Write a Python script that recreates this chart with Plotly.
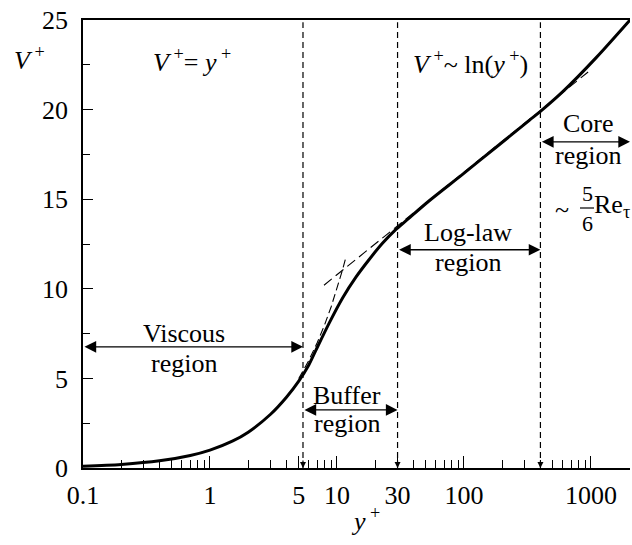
import math
import plotly.graph_objects as go

# ---- data ----
yplus = [0.1, 0.2, 0.4, 0.7, 1.0, 1.5, 2.0, 3.0, 4.0, 5.0, 6.0, 6.8, 8.7, 11.1, 14.1,
         18.0, 22.9, 29.0, 35.0, 53.0, 98.0, 179.0, 327.0, 400.0, 600.0, 1100.0, 2030.0]
vplus = [0.1, 0.2, 0.4, 0.7, 1.0, 1.5, 2.0, 3.0, 3.95, 4.85, 5.75, 6.55, 8.1, 9.5, 10.65,
         11.65, 12.55, 13.3, 13.8, 14.9, 16.4, 17.9, 19.4, 19.9, 21.0, 22.9, 25.0]

visc_yplus = [5.0, 6.0, 7.0, 8.0, 9.0, 10.0, 11.0, 11.8]
visc_vplus = [5.0, 6.0, 7.0, 8.0, 9.0, 10.0, 11.0, 11.8]

loglaw_yplus = [7.9, 950.0]
loglaw_vplus = [10.2, 22.1]

region_bounds = [5.4, 30.0, 400.0]
x_min, x_max = 0.1, 2030.0
y_min, y_max = 0.0, 25.0

arrow_levels = {"viscous": 6.76, "buffer": 3.24, "loglaw": 12.18, "core": 18.2}

x_tickvals = [0.1, 1, 5, 10, 30, 100, 1000]
x_ticktext = ["0.1", "1", "5", "10", "30", "100", "1000"]
x_minor = [m * 10 ** e for e in range(-1, 4) for m in range(2, 10) if m * 10 ** e <= 2000]

FONT = "Liberation Serif"
FS = 26

fig = go.Figure()

# dashed region boundaries
for xb in region_bounds:
    fig.add_trace(go.Scatter(x=[xb, xb], y=[y_min, y_max * 0.995], mode="lines",
                             line=dict(color="black", width=1.2, dash="6px,4px"),
                             showlegend=False, hoverinfo="skip"))

# asymptote dashed lines
fig.add_trace(go.Scatter(x=visc_yplus, y=visc_vplus, mode="lines",
                         line=dict(color="black", width=1.1, dash="8px,4px"),
                         showlegend=False, hoverinfo="skip"))
fig.add_trace(go.Scatter(x=loglaw_yplus, y=loglaw_vplus, mode="lines",
                         line=dict(color="black", width=1.1, dash="10px,5px"),
                         showlegend=False, hoverinfo="skip"))

# main profile
fig.add_trace(go.Scatter(x=yplus, y=vplus, mode="lines",
                         line=dict(color="black", width=3, shape="spline", smoothing=0.8),
                         showlegend=False, hoverinfo="skip"))

ann = []
L = math.log10

# small arrowheads at the bottom of the dashed boundaries
for xb in region_bounds:
    ann.append(dict(x=L(xb), y=0, xref="x", yref="y", ax=0, ay=-9, text="",
                    showarrow=True, arrowhead=2, arrowsize=1, arrowwidth=1.2, arrowcolor="black"))

def darrow(x0, x1, y):
    ann.append(dict(x=L(x1), y=y, ax=L(x0), ay=y, xref="x", yref="y", axref="x", ayref="y",
                    text="", showarrow=True, arrowhead=2, arrowside="end+start",
                    arrowsize=1.8, arrowwidth=1.3, arrowcolor="black"))

darrow(x_min, region_bounds[0], arrow_levels["viscous"])
darrow(region_bounds[0], region_bounds[1], arrow_levels["buffer"])
darrow(region_bounds[1], region_bounds[2], arrow_levels["loglaw"])
darrow(region_bounds[2], x_max, arrow_levels["core"])

def px(x):
    return (x - 83) / 547.0

def py(y):
    return (468 - y) / 448.0

def txt(text, x, y, size=FS, xanchor="center"):
    ann.append(dict(text=text, x=px(x), y=py(y), xref="paper", yref="paper",
                    showarrow=False, xanchor=xanchor, yanchor="middle",
                    font=dict(family=FONT, size=size, color="black")))

txt("Viscous", 184, 333)
txt("region", 184, 363)
txt("Buffer", 347, 395)
txt("region", 347, 423)
txt("Log-law", 468, 232)
txt("region", 468, 262)
txt("Core", 588, 124)
txt("region", 588, 155)
txt("<i>V</i><sup> +</sup>= <i>y</i><sup> +</sup>", 192, 60)
txt("<i>V</i><sup> +</sup>~ ln(<i>y</i><sup> +</sup>)", 470, 62)
txt("~", 562, 209, size=26)
txt("5", 587, 193, size=22)
txt("6", 587, 223, size=22)
txt("Re<sub>τ</sub>", 592, 206, size=FS, xanchor="left")
txt("<i>V</i><sup> +</sup>", 29, 58)
txt("<i>y</i><sup> +</sup>", 365, 519)

fig.update_layout(
    width=632, height=545,
    margin=dict(l=83, r=2, t=20, b=77),
    paper_bgcolor="white", plot_bgcolor="white",
    font=dict(family=FONT, size=FS, color="black"),
    annotations=ann,
    shapes=[dict(type="line", xref="paper", yref="paper",
                 x0=px(580), x1=px(594), y0=py(208), y1=py(208),
                 line=dict(color="black", width=1.2))],
    xaxis=dict(type="log", range=[L(x_min), L(x_max)], tickmode="array",
               tickvals=x_tickvals, ticktext=x_ticktext, ticks="inside", ticklen=12,
               tickwidth=1.3, tickcolor="black", showline=True, linecolor="black",
               linewidth=1.5, mirror=True, showgrid=False, zeroline=False,
               ticklabelstandoff=3, tickfont=dict(family=FONT, size=FS),
               minor=dict(tickmode="array", tickvals=x_minor, ticks="inside",
                          ticklen=8, tickwidth=1.3, tickcolor="black", showgrid=False)),
    yaxis=dict(range=[y_min, y_max], tickmode="linear", tick0=0, dtick=5,
               ticks="inside", ticklen=10, tickwidth=1.4, tickcolor="black",
               showline=True, linecolor="black", linewidth=1.5, mirror=False,
               showgrid=False, zeroline=False, ticklabelstandoff=8,
               tickfont=dict(family=FONT, size=FS),
               minor=dict(dtick=2.5, ticks="inside", ticklen=7, tickwidth=1.4,
                          tickcolor="black", showgrid=False)),
)

fig.write_html("out.html")
